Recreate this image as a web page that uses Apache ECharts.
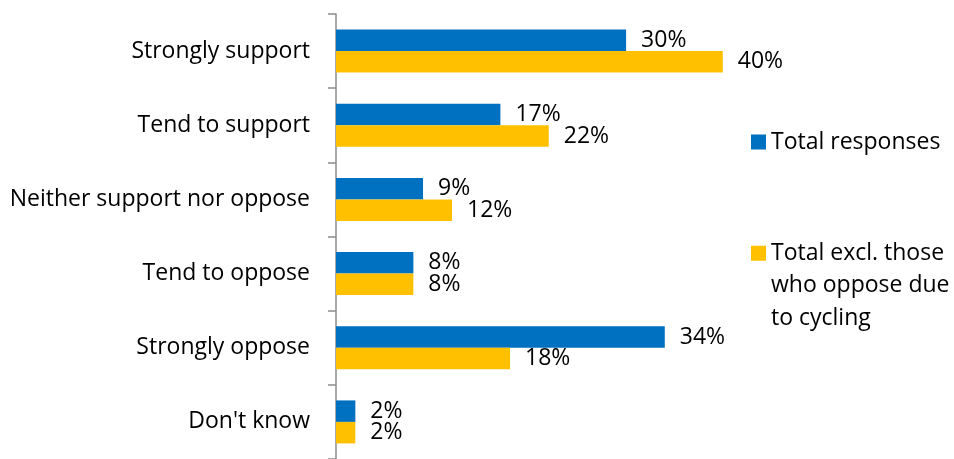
<!DOCTYPE html>
<html>
<head>
<meta charset="utf-8">
<script src="https://cdn.jsdelivr.net/npm/echarts@6/dist/echarts.min.js"></script>
<style>
  html, body { margin: 0; padding: 0; background: #fff; }
  #chart { width: 954px; height: 459px; }
</style>
</head>
<body>
<div id="chart"></div>
<script>
// Attitude categories, top to bottom
const categories = [
  'Strongly support',
  'Tend to support',
  'Neither support nor oppose',
  'Tend to oppose',
  'Strongly oppose',
  "Don't know"
];
const seriesNames = [
  'Total responses',
  'Total excl. those who oppose due to cycling'
];
// Percent of respondents
const totalResponses = [30, 17, 9, 8, 34, 2];
const totalExclCycling = [40, 22, 12, 8, 18, 2];

const FONT = '"Open Sans", "Noto Sans", sans-serif';
const FS = 23;
const chart = echarts.init(document.getElementById('chart'), null, { renderer: 'canvas' });

const valueLabel = {
  show: true,
  position: 'right',
  distance: 15,
  formatter: p => p.value + '%',
  color: '#000',
  fontFamily: FONT,
  fontSize: FS
};

chart.setOption({
  animation: false,
  backgroundColor: '#fff',
  grid: { left: 336, top: 14, width: 483.5, height: 450, containLabel: false },
  xAxis: {
    type: 'value',
    min: 0,
    max: 50,
    show: false
  },
  yAxis: {
    type: 'category',
    data: categories,
    inverse: true,
    axisLine: { show: true, lineStyle: { color: '#8c8c8c', width: 1.5 } },
    axisTick: { show: true, length: 8, lineStyle: { color: '#8c8c8c', width: 1.5 } },
    axisLabel: { margin: 26, color: '#000', fontFamily: FONT, fontSize: FS },
    splitLine: { show: false }
  },
  legend: [
    {
      data: [seriesNames[0]],
      orient: 'vertical',
      left: 751,
      top: 127,
      padding: 0,
      itemWidth: 15,
      itemHeight: 15,
      itemGap: 0,
      icon: 'rect',
      textStyle: { color: '#000', fontFamily: FONT, fontSize: FS, lineHeight: 30 }
    },
    {
      data: [seriesNames[1]],
      orient: 'vertical',
      left: 751,
      top: 172,
      padding: 0,
      itemWidth: 15,
      itemHeight: 15,
      itemGap: 0,
      icon: 'rect',
      // two leading blank lines keep the marker level with the first text line
      formatter: () => '\n\nTotal excl. those\nwho oppose due\nto cycling',
      textStyle: { color: '#000', fontFamily: FONT, fontSize: FS, lineHeight: 32.5 }
    }
  ],
  series: [
    {
      name: seriesNames[0],
      type: 'bar',
      data: totalResponses,
      barGap: '0%',
      barCategoryGap: '42%',
      itemStyle: { color: '#0070C0' },
      label: valueLabel
    },
    {
      name: seriesNames[1],
      type: 'bar',
      data: totalExclCycling,
      itemStyle: { color: '#FFC000' },
      label: valueLabel
    }
  ]
});
</script>
</body>
</html>
